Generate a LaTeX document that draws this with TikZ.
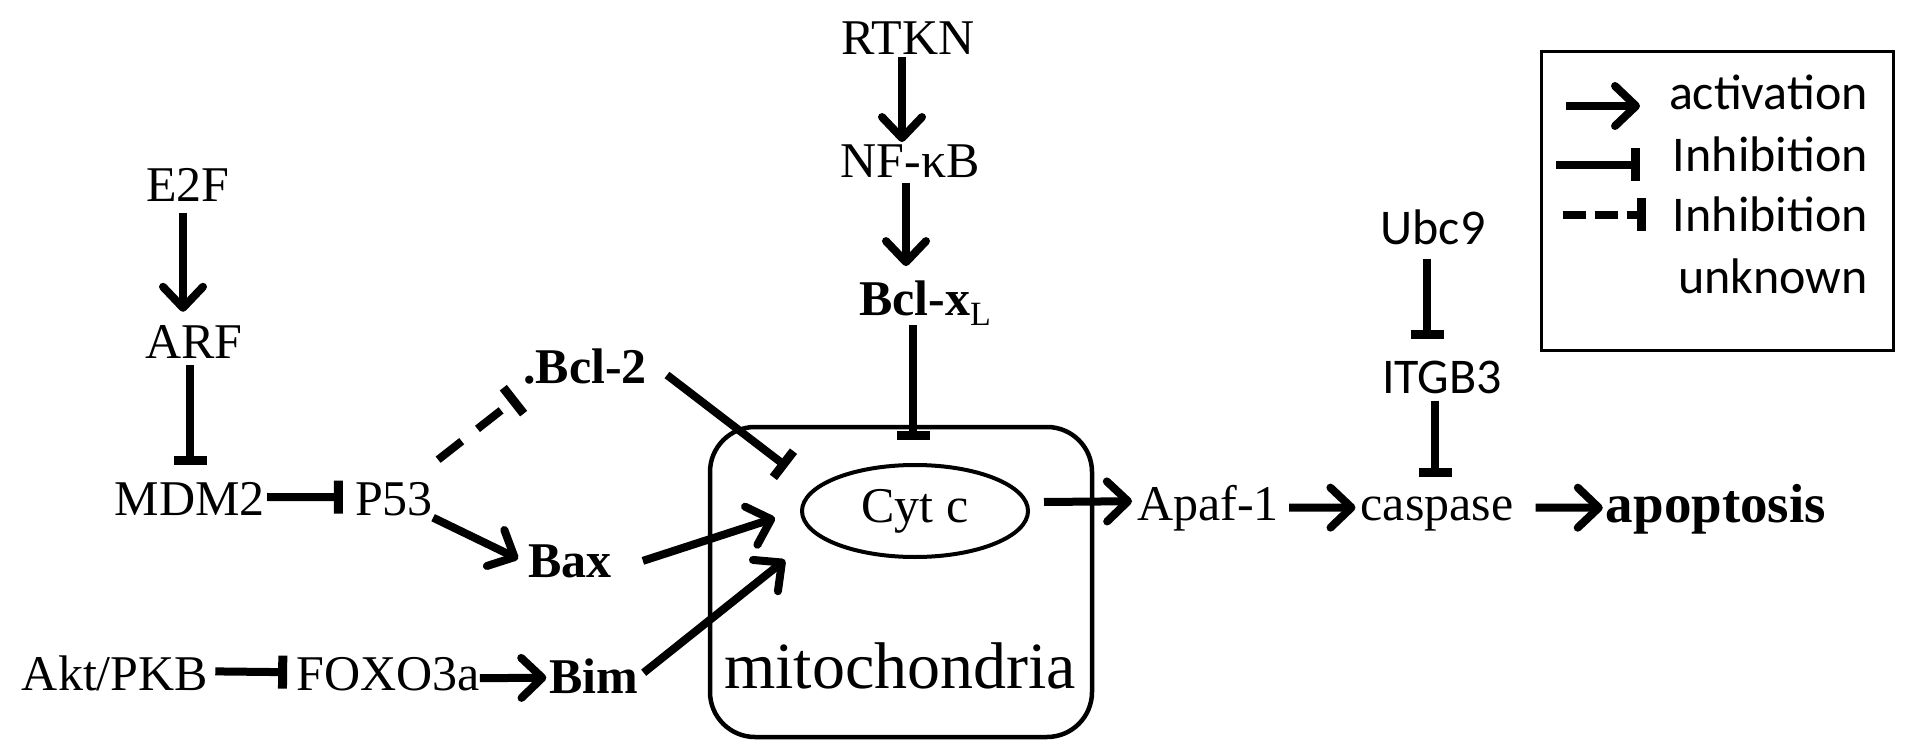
\documentclass[tikz,border=0pt]{standalone}
\usepackage{fontspec}
\setmainfont{Liberation Serif}
\newfontfamily\calibri{Carlito}
\usetikzlibrary{arrows.meta,shapes.geometric}
\tikzset{
  act/.style={line width=8pt,-{Straight Barb[length=21pt,width=40pt,round]}},
  inh/.style={line width=8pt,-{Bar[width=33pt,line width=9pt]}},
  dinh/.style={inh,dash pattern=on 30pt off 20pt},
  ldinh/.style={inh,dash pattern=on 23pt off 9pt},
  lbl/.style={anchor=base,inner sep=0pt,font=\fontsize{50pt}{60pt}\selectfont},
  bld/.style={lbl,font=\fontsize{50pt}{60pt}\selectfont\bfseries},
  sns/.style={lbl,font=\fontsize{50pt}{60pt}\selectfont\calibri},
}
\begin{document}
\begin{tikzpicture}[x=1pt,y=-1pt]
\useasboundingbox (0,0) rectangle (1913,751);
\fill[white] (0,0) rectangle (1913,751);

% mitochondria
\node[draw,rounded corners=45pt,line width=4.5pt,minimum width=382pt,minimum height=310pt,inner sep=0pt] (mito) at (901,582) {};
\node[lbl,font=\fontsize{66pt}{70pt}\selectfont] (mitotxt) at (900,688) {mitochondria};
\node[draw,ellipse,line width=4pt,minimum width=226pt,minimum height=92pt,inner sep=0pt,font=\fontsize{50pt}{60pt}\selectfont] (cytc) at (915,511) {Cyt c};

% left nodes
\node[lbl] (e2f) at (188,202) {E2F};
\node[lbl] (arf) at (194,358) {ARF};
\node[lbl] (mdm2) at (190,515) {MDM2};
\node[lbl] (p53) at (394,515) {P53};
\node[bld] (bcl2) at (585,383) {.Bcl-2};
\node[bld] (bax) at (570,577) {Bax};
\node[lbl] (akt) at (115,690) {Akt/PKB};
\node[lbl] (foxo) at (388,690) {FOXO3a};
\node[bld] (bim) at (594,693) {Bim};

% top nodes
\node[lbl] (rtkn) at (908,55) {RTKN};
\node[lbl] (nfkb) at (910,178) {NF-κB};
\node[bld] (bclxl) at (925,315) {Bcl-x\raisebox{-10pt}{\fontsize{34pt}{34pt}\selectfont\mdseries L}};

% right nodes
\node[lbl] (apaf) at (1208,520) {Apaf-1};
\node[lbl] (casp) at (1437,520) {caspase};
\node[bld,font=\fontsize{55pt}{60pt}\selectfont\bfseries] (apop) at (1716,522) {apoptosis};
\node[sns] (ubc) at (1433,245) {Ubc9};
\node[sns] (itgb) at (1442,393) {ITGB3};

% free ends inside mitochondria
\coordinate (bcl2tip) at (787,467);
\coordinate (baxtip) at (775,518);
\coordinate (bimtip) at (785,560);

% connectors
\draw[act] ([xshift=-5pt,yshift=-11pt]e2f.south) -- ([xshift=-11pt,yshift=13pt]arf.north);
\draw[inh] ([xshift=-4pt,yshift=-7pt]arf.south) -- ([yshift=17pt]mdm2.north);
\draw[inh] ([xshift=2pt,yshift=1.5pt]mdm2.east) -- ([xshift=-12pt,yshift=1.5pt]p53.west);
\draw[dinh] ([xshift=5pt,yshift=22pt]p53.north east) -- ([xshift=-6pt,yshift=-14pt]bcl2.south west);
\draw[act] ([yshift=-2pt]p53.south east) -- ([xshift=-10pt,yshift=2pt]bax.west);
\draw[inh] ([xshift=20pt,yshift=-9pt]bcl2.east) -- (bcl2tip);
\draw[act] ([xshift=31pt]bax.east) -- (baxtip);
\draw[inh] ([xshift=7pt,yshift=1.5pt]akt.east) -- ([xshift=-9pt,yshift=1.5pt]foxo.west);
\draw[act] ([yshift=-4.5pt]foxo.east) -- ([xshift=-3pt,yshift=-2pt]bim.west);
\draw[act] ([xshift=5pt,yshift=3pt]bim.east) -- (bimtip);
\draw[act] ([xshift=-6pt,yshift=-2pt]rtkn.south) -- ([xshift=-8pt,yshift=3pt]nfkb.north);
\draw[act] ([xshift=-4pt,yshift=-5pt]nfkb.south) -- ([xshift=-19pt,yshift=14pt]bclxl.north);
\draw[inh] ([xshift=-12pt]bclxl.south) -- ([xshift=-2pt,yshift=23pt]cytc.north);
\draw[act] ([xshift=14pt,yshift=9pt]cytc.east) -- ([xshift=-5pt,yshift=6.5pt]apaf.west);
\draw[act] ([xshift=10pt]apaf.east) -- ([xshift=-5pt,yshift=6pt]casp.west);
\draw[act] ([xshift=22pt,yshift=6pt]casp.east) -- ([xshift=-3pt,yshift=1pt]apop.west);
\draw[inh] ([xshift=-6pt,yshift=-13pt]ubc.south) -- ([xshift=-15pt,yshift=21pt]itgb.north);
\draw[inh] ([xshift=-7pt,yshift=-7pt]itgb.south) -- ([xshift=-2pt,yshift=19pt]casp.north);

% legend
\node[draw,line width=3pt,minimum width=352pt,minimum height=298pt,inner sep=0pt] (legend) at (1717,201) {};
\node[sns,anchor=base east] (lact) at (1868,110) {activation};
\node[sns,anchor=base east] (linh) at (1868,172) {Inhibition};
\node[sns,anchor=base east] (linu) at (1868,232) {Inhibition};
\node[sns,anchor=base east] (lunk) at (1868,293) {unknown};
\coordinate (la1) at (1566,106); \coordinate (la2) at (1640,106);
\coordinate (lb1) at (1556,165); \coordinate (lb2) at (1640,165);
\coordinate (lc1) at (1563,215); \coordinate (lc2) at (1646,215);
\draw[act] (la1) -- (la2);
\draw[inh] (lb1) -- (lb2);
\draw[ldinh] (lc1) -- (lc2);
\end{tikzpicture}
\end{document}
